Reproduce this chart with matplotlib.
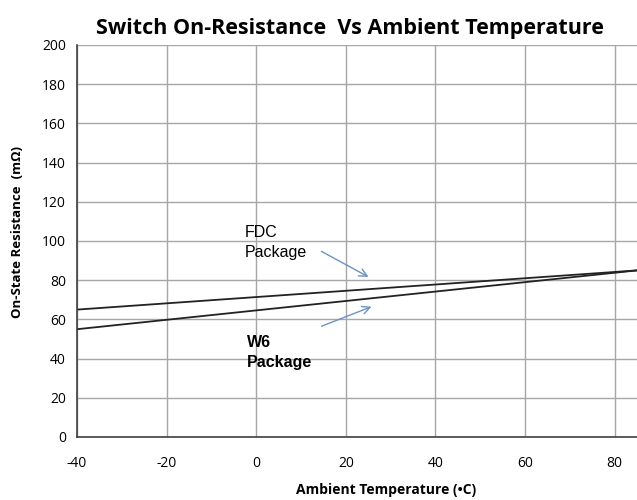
import matplotlib

matplotlib.use("Agg")

import matplotlib.pyplot as plt

TEMPS = [-40, 85]
FDC_RES = [65, 85]
W6_RES = [55, 85]

X_TICKS = [-40, -20, 0, 20, 40, 60, 80]
Y_TICKS = list(range(0, 201, 20))

TICK_FONT = "Open Sans"
NOTE_FONT = "Liberation Sans"

plt.rcParams["axes.unicode_minus"] = False

fig = plt.figure(figsize=(6.37, 5.0), dpi=100)
ax = fig.add_axes([0.121, 0.126, 0.879, 0.784])

ax.plot(TEMPS, FDC_RES, color="#222222", linewidth=1.3)
ax.plot(TEMPS, W6_RES, color="#222222", linewidth=1.3)

ax.set_xlim(-40, 85)
ax.set_ylim(0, 200)
ax.set_xticks(X_TICKS)
ax.set_yticks(Y_TICKS)
ax.grid(True, color="#a6a6a6", linewidth=1.0)
ax.set_axisbelow(True)
for side in ("top", "right"):
    ax.spines[side].set_visible(False)
ax.spines["left"].set_color("#404040")
ax.spines["bottom"].set_color("#404040")
ax.spines["left"].set_linewidth(1.2)
ax.spines["bottom"].set_linewidth(1.2)
ax.tick_params(length=0, labelsize=10, pad=8)
for lbl in ax.get_xticklabels() + ax.get_yticklabels():
    lbl.set_fontfamily(TICK_FONT)
ax.tick_params(axis="x", pad=14)

ax.set_title("Switch On-Resistance  Vs Ambient Temperature", fontsize=15.5,
             fontweight="bold", fontfamily=TICK_FONT, pad=8, x=0.487)
ax.set_xlabel("Ambient Temperature (\u2022C)", fontsize=10, fontweight="bold",
              fontfamily=TICK_FONT, labelpad=8)
ax.xaxis.set_label_coords(0.552, -0.118)
ax.set_ylabel("On-State Resistance  (m\u03a9)", fontsize=9.5, fontweight="bold",
              fontfamily=TICK_FONT, labelpad=6)
ax.yaxis.set_label_coords(-0.095, 0.523)

arrow = dict(arrowstyle="->", color="#6a93c8", linewidth=1.0,
             mutation_scale=14)
ax.annotate("FDC\nPackage", xy=(25.6, 81), xytext=(-2.6, 99.3),
            fontsize=11.5, fontfamily=NOTE_FONT, va="center", ha="left",
            linespacing=1.45)
ax.annotate("", xy=(25.6, 81), xytext=(14.0, 95.4), arrowprops=arrow)
ax.annotate("W6\nPackage", xy=(26.3, 67), xytext=(-2.0, 43),
            fontsize=11.5, fontweight="bold", fontfamily=NOTE_FONT,
            va="center", ha="left", linespacing=1.45)
ax.annotate("", xy=(26.3, 67), xytext=(14.0, 56), arrowprops=arrow)

fig.savefig("out.png", dpi=100)
plt.close(fig)
